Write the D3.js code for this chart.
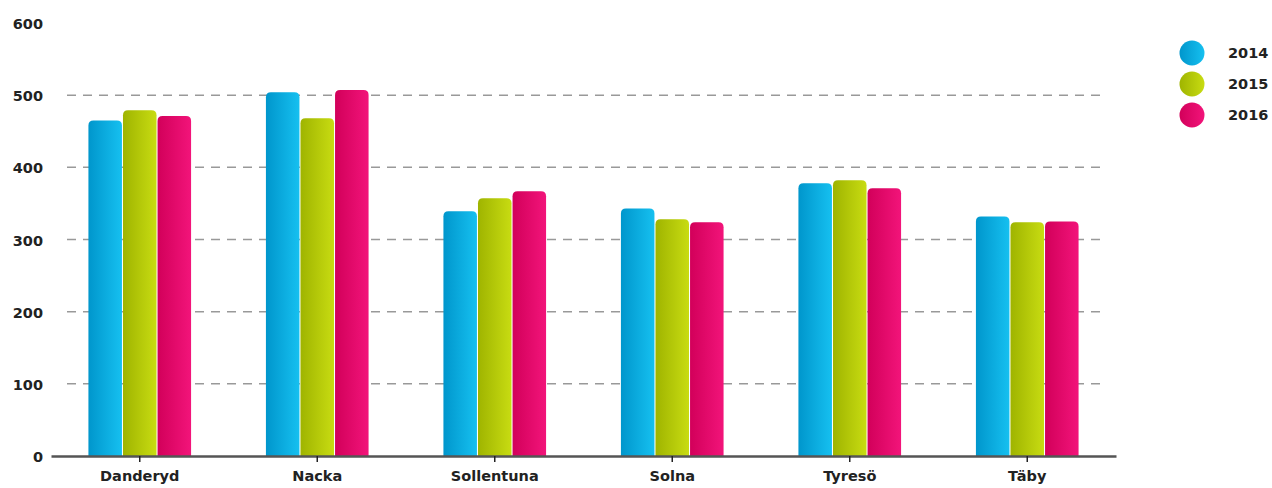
<!DOCTYPE html>
<html>
<head>
<meta charset="utf-8">
<script src="https://cdn.jsdelivr.net/npm/d3@7"></script>
<style>
  body { margin: 0; background: #fff; }
  text { font-family: "DejaVu Sans", sans-serif; font-weight: bold; fill: #222; }
</style>
</head>
<body>
<script>
const categories = ['Danderyd', 'Nacka', 'Sollentuna', 'Solna', 'Tyresö', 'Täby'];
const years = ['2014', '2015', '2016'];
const values2014 = [465, 504, 339, 343, 378, 332];
const values2015 = [479, 468, 357, 328, 382, 324];
const values2016 = [471, 507, 367, 324, 371, 325];
const yTicks = [0, 100, 200, 300, 400, 500, 600];

const series = [values2014, values2015, values2016];
const colors = [['#0096cc', '#16c0f0'], ['#9fb400', '#c8dc12'], ['#d2005a', '#f2147a']];

const width = 1272, height = 488;
const margin = { top: 23, right: 156, bottom: 32, left: 51 };

const svg = d3.select('body').append('svg')
  .attr('width', width)
  .attr('height', height);

const defs = svg.append('defs');
colors.forEach((c, i) => {
  const g = defs.append('linearGradient').attr('id', 'grad' + i)
    .attr('x1', '0%').attr('x2', '100%').attr('y1', '0%').attr('y2', '0%');
  g.append('stop').attr('offset', '0%').attr('stop-color', c[0]);
  g.append('stop').attr('offset', '100%').attr('stop-color', c[1]);
});

const x = d3.scaleBand()
  .domain(categories)
  .range([margin.left, width - margin.right])
  .paddingInner(0.41)
  .paddingOuter(0.205);

const xInner = d3.scaleBand()
  .domain(years)
  .range([0, x.bandwidth()])
  .padding(0.03);

const y = d3.scaleLinear()
  .domain([0, 600])
  .range([height - margin.bottom, margin.top]);

// gridlines
svg.append('g')
  .selectAll('line')
  .data(yTicks.filter(d => d > 0 && d < 600))
  .enter()
  .append('line')
  .attr('x1', margin.left + 16)
  .attr('x2', width - margin.right - 15)
  .attr('y1', d => y(d))
  .attr('y2', d => y(d))
  .attr('stroke', '#999')
  .attr('stroke-width', 1.5)
  .attr('stroke-dasharray', '9,7');

// y labels
svg.append('g')
  .selectAll('text')
  .data(yTicks)
  .enter()
  .append('text')
  .attr('x', 43)
  .attr('y', d => y(d) + 6)
  .attr('text-anchor', 'end')
  .style('font-size', '14.5px')
  .text(d => d);

function barPath(x0, w, yTop, yBottom, r) {
  r = Math.min(r, (yBottom - yTop));
  return `M${x0},${yBottom}V${yTop + r}Q${x0},${yTop} ${x0 + r},${yTop}` +
    `H${x0 + w - r}Q${x0 + w},${yTop} ${x0 + w},${yTop + r}V${yBottom}Z`;
}

// bars
const groups = svg.append('g')
  .selectAll('g')
  .data(categories)
  .enter()
  .append('g')
  .attr('transform', d => `translate(${x(d)},0)`);

groups.selectAll('path')
  .data((d, i) => years.map((yr, k) => ({ yr, k, v: series[k][i] })))
  .enter()
  .append('path')
  .attr('d', d => barPath(xInner(d.yr), xInner.bandwidth(), y(d.v), y(0), 5))
  .attr('fill', d => `url(#grad${d.k})`);

// x axis
const xAxis = d3.axisBottom(x).tickSizeInner(6).tickSizeOuter(0).tickPadding(9);
const gx = svg.append('g')
  .attr('transform', `translate(0,${y(0)})`)
  .call(xAxis);
gx.select('.domain').attr('stroke', '#555').attr('stroke-width', 2.5);
gx.selectAll('.tick line').attr('stroke', '#222').attr('stroke-width', 1.5);
gx.selectAll('.tick text')
  .style('font-size', '14.5px')
  .style('font-family', '"DejaVu Sans", sans-serif')
  .style('font-weight', 'bold')
  .attr('fill', '#222');

// legend
const legend = svg.append('g')
  .selectAll('g')
  .data(years)
  .enter()
  .append('g')
  .attr('transform', (d, i) => `translate(1192,${53 + i * 31})`);

legend.append('circle')
  .attr('r', 12.5)
  .attr('fill', (d, i) => `url(#grad${i})`);

legend.append('text')
  .attr('x', 36)
  .attr('y', 5)
  .style('font-size', '14.5px')
  .text(d => d);
</script>
</body>
</html>
